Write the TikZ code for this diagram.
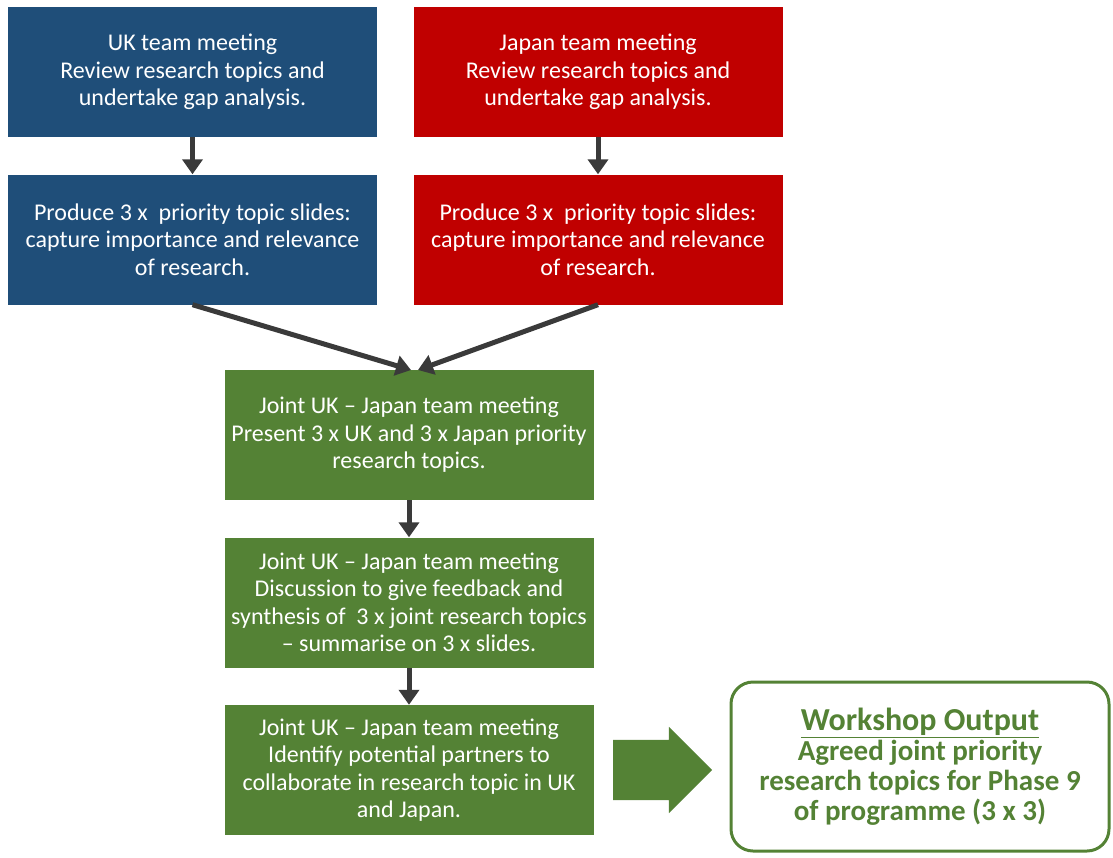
\documentclass[tikz,border=0pt]{standalone}
\usepackage{fontspec}
\setmainfont{Carlito}
\usetikzlibrary{arrows.meta,shapes.arrows}
\definecolor{ukblue}{HTML}{1F4E79}
\definecolor{jpred}{HTML}{C00000}
\definecolor{jgreen}{HTML}{548235}
\definecolor{arrowgray}{HTML}{3A3A3A}
\begin{document}
\begin{tikzpicture}[x=1pt,y=-1pt,
  box/.style={draw=none,minimum width=369pt,minimum height=130pt,inner sep=0pt,
    text=white,align=center,font=\fontsize{24}{27.5}\selectfont},
  conn/.style={draw=arrowgray,line width=5pt,-{Triangle[length=15pt,width=20pt]}}]
\useasboundingbox (0,0) rectangle (1113,857);
\node[box,fill=ukblue] (uk1) at (192.5,72) {UK team meeting\\Review research topics and\\undertake gap analysis.};
\node[box,fill=jpred] (jp1) at (598,72) {Japan team meeting\\Review research topics and\\undertake gap analysis.};
\node[box,fill=ukblue] (uk2) at (192.5,239.5) {Produce 3 x\ \ priority topic slides:\\capture importance and relevance\\of research.};
\node[box,fill=jpred] (jp2) at (598,239.5) {Produce 3 x\ \ priority topic slides:\\capture importance and relevance\\of research.};
\node[box,fill=jgreen] (g1) at (409,435) {Joint UK -- Japan team meeting\\Present 3 x UK and 3 x Japan priority\\research topics.};
\node[box,fill=jgreen] (g2) at (409,602.5) {Joint UK -- Japan team meeting\\Discussion to give feedback and\\synthesis of\ \ 3 x joint research topics\\-- summarise on 3 x slides.};
\node[box,fill=jgreen] (g3) at (409,770) {Joint UK -- Japan team meeting\\Identify potential partners to\\collaborate in research topic in UK\\and Japan.};
\node[draw=jgreen,line width=3pt,rounded corners=22pt,minimum width=378pt,minimum height=169pt,
  text=jgreen,align=center,font=\bfseries\fontsize{29}{30}\selectfont] (out) at (920,766.5)
  {{\fontsize{32}{30}\selectfont\underline{Workshop Output}}\\Agreed joint priority\\research topics for Phase 9\\of programme (3 x 3)};
\node[single arrow,fill=jgreen,draw=none,minimum height=99pt,
  inner xsep=0pt,inner ysep=30pt,single arrow head extend=13pt,single arrow tip angle=90] (blk) at (647.5,770) {};
\coordinate (m1) at (411,370);
\coordinate (m2) at (418,370);
\draw[conn] (uk1.south) -- (uk2.north);
\draw[conn] (jp1.south) -- (jp2.north);
\draw[conn] (uk2.south) -- (m1);
\draw[conn] (jp2.south) -- (m2);
\draw[conn] (g1.south) -- (g2.north);
\draw[conn] (g2.south) -- (g3.north);
\end{tikzpicture}
\end{document}
